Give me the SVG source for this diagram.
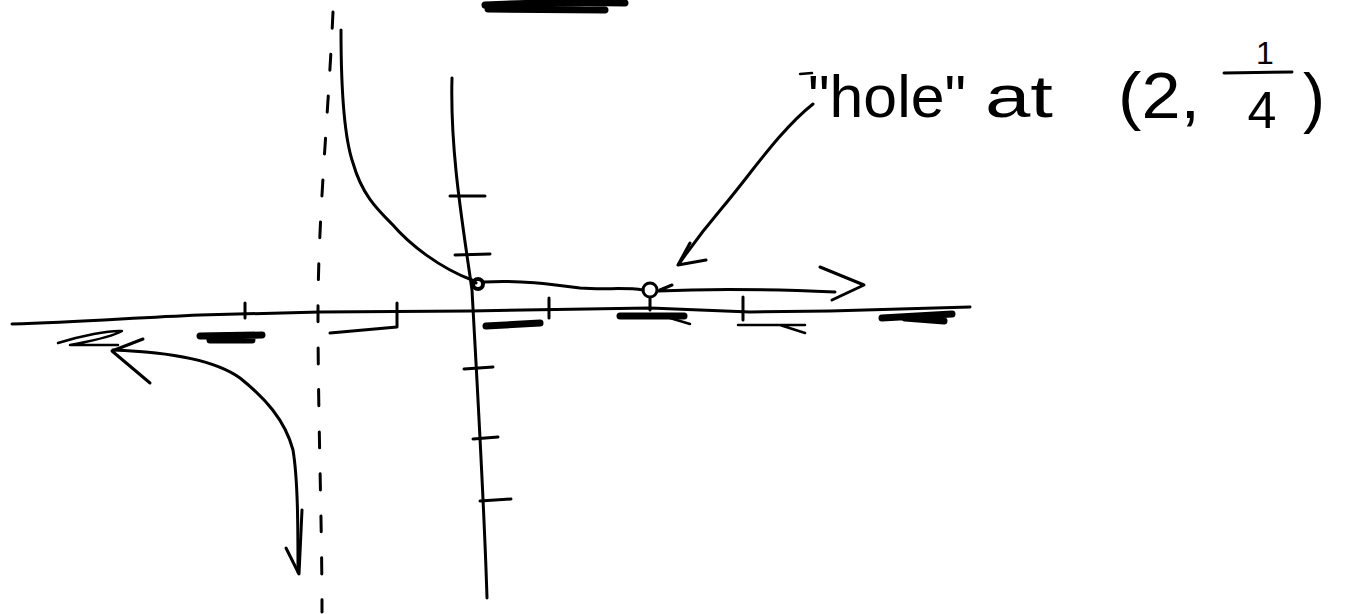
<svg xmlns="http://www.w3.org/2000/svg" width="1353" height="614" viewBox="0 0 1353 614">
<style>
.ink{fill:none;stroke:#000;stroke-width:3;stroke-linecap:round;stroke-linejoin:round}
.thin{fill:none;stroke:#000;stroke-width:2.5;stroke-linecap:round;stroke-linejoin:round}
.smudge{fill:none;stroke:#000;stroke-width:7;stroke-linecap:round;stroke-linejoin:round}
.dash{fill:none;stroke:#000;stroke-width:3;stroke-linecap:round;stroke-dasharray:16 26}
.hand{font-family:"Liberation Sans",Arial,sans-serif;fill:#000}
</style>
<rect width="1353" height="614" fill="#fff"/>
<g id="x-axis">
<path class="ink" d="M12,324 C80,322 130,318 200,315 L320,312 L470,311 L650,308 L750,312 L830,311 L970,307"/>
<path class="ink" d="M245,303 L245,318 M330,333 L397,327 L397,303 M549,298 L549,318 M650,298 L650,310 M743,297 L743,320"/>
</g>
<g id="y-axis">
<path class="ink" d="M452,78 C450,150 462,220 472,290 C478,400 484,500 487,598"/>
<path class="ink" d="M450,196 L485,196 M455,255 L490,254 M464,369 L493,367 M473,439 L498,437 M480,501 L511,499"/>
</g>
<g id="asymptote">
<path class="dash" d="M333,12 C328,120 318,220 318,312 C318,420 322,520 322,612"/>
</g>
<g id="right-branch">
<path class="ink" d="M341,30 C341,90 345,140 353,163 C362,195 378,210 392,224 C410,245 440,268 472,280 L476,283"/>
<path class="ink" d="M484,282 C520,280 550,284 580,288 C605,290 625,287 643,290"/>
<circle cx="478" cy="284" r="5" fill="none" stroke="#000" stroke-width="4"/>
<circle cx="650" cy="290" r="7" fill="none" stroke="#000" stroke-width="3"/>
<path class="ink" d="M660,290 L672,285 M658,291 C720,288 790,290 835,292"/>
<path class="ink" d="M820,267 L864,285 L832,300"/>
</g>
<g id="left-branch">
<path class="ink" d="M113,350 C170,352 215,360 240,378 C265,398 285,420 293,450 C298,480 298,530 298,572"/>
<path class="ink" d="M143,339 L112,351 L150,383"/>
<path class="ink" d="M302,510 L299,574 L286,548"/>
</g>
<g id="scribbles">
<path class="smudge" d="M485,5 C530,3 580,2 625,3 M488,9 L605,10" stroke-width="9"/>
<path class="smudge" d="M200,336 L262,335 M210,340 L252,340"/>
<path class="thin" d="M58,343 C80,336 110,330 122,331 C110,338 85,342 70,345 L118,345"/>
<path class="smudge" d="M486,326 L540,323"/>
<path class="smudge" d="M620,316 L684,316"/>
<path class="thin" d="M670,318 L690,324"/>
<path class="thin" d="M738,325 L805,325 M780,325 L805,333"/>
<path class="smudge" d="M882,318 L952,314 M905,318 L944,321"/>
</g>
<g id="leader">
<path class="ink" d="M813,104 C780,130 750,175 722,208 C705,228 690,248 679,264"/>
<path class="ink" d="M690,243 L678,265 L706,260"/>
<path class="thin" d="M800,74 L812,73"/>
</g>
<g id="label">
<text class="hand" x="808" y="117" font-size="60" textLength="158" lengthAdjust="spacingAndGlyphs">"hole"</text>
<text class="hand" x="985" y="117" font-size="60" textLength="68" lengthAdjust="spacingAndGlyphs">at</text>
<text class="hand" x="1118" y="118" font-size="64" textLength="82" lengthAdjust="spacingAndGlyphs">(2,</text>
<text class="hand" x="1265" y="64" font-size="32" text-anchor="middle">1</text>
<path class="ink" d="M1224,73 L1292,72"/>
<text class="hand" x="1262" y="128" font-size="52" text-anchor="middle">4</text>
<text class="hand" x="1303" y="120" font-size="66">)</text>
</g>
</svg>
